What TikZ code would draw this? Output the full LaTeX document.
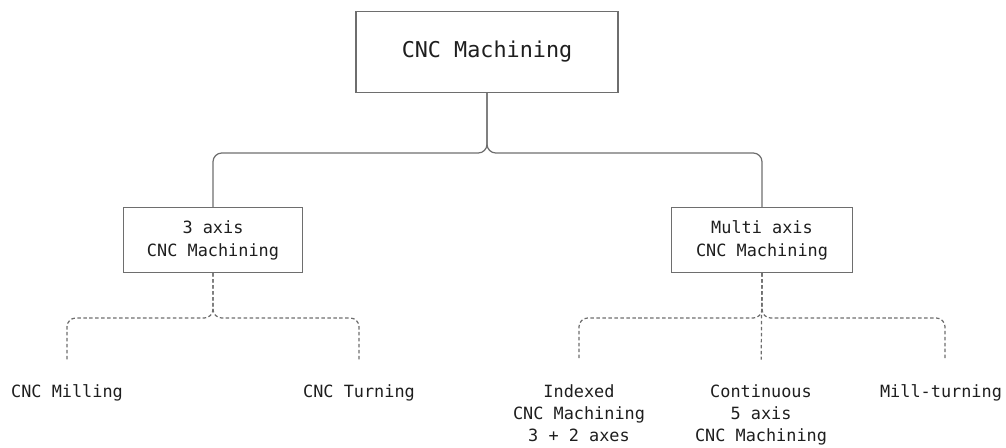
\documentclass[tikz,border=0pt]{standalone}
\usepackage{fontspec}
\setmonofont{DejaVu Sans Mono}
\usepackage{xcolor}
\usetikzlibrary{positioning}

\definecolor{linegray}{RGB}{110,110,110}
\definecolor{textgray}{RGB}{30,30,30}

\tikzset{
	caixa/.style={draw=linegray, line width=0.7pt, fill=white, text=textgray, align=center, font=\ttfamily\fontsize{9.6}{13}\selectfont},
	folha/.style={text=textgray, align=center, anchor=north, font=\ttfamily\fontsize{9.6}{12.6}\selectfont},
	liga/.style={draw=linegray, line width=0.7pt, rounded corners=5pt},
	ligatrac/.style={liga, dash pattern=on 2pt off 1.4pt, shorten >=10.5pt}
}

\begin{document}
\begin{tikzpicture}[x=0.02cm, y=-0.02cm]
				\useasboundingbox (0,0) rectangle (1006,447);
				
				%% Caixas
				\node [caixa, minimum width=5.24cm, minimum height=1.62cm,
					font=\ttfamily\fontsize{12.4}{15}\selectfont] (cnc) at (487,52) {CNC Machining};
				
				\node [caixa, minimum width=3.58cm, minimum height=1.3cm] (tres) at (213,240) {3 axis\\CNC Machining};
				
				\node [caixa, minimum width=3.62cm, minimum height=1.3cm] (multi) at (762,240) {Multi axis\\CNC Machining};
				
				%% Folhas
				\node [folha] (fresa) at (67,378) {CNC Milling};
				\node [folha] (torno) at (359,378) {CNC Turning};
				\node [folha] (indexado) at (579,378) {Indexed\\CNC Machining\\3 + 2 axes};
				\node [folha] (continuo) at (761,378) {Continuous\\5 axis\\CNC Machining};
				\node [folha] (fresatorno) at (941,378) {Mill-turning};
				
				%% Ligações
				\draw [liga] (cnc.south) -- (cnc.south |- 0,153) -- (tres.north |- 0,153) -- (tres.north);
				\draw [liga] (cnc.south) -- (cnc.south |- 0,153) -- (multi.north |- 0,153) -- (multi.north);
				
				\draw [ligatrac] (tres.south) -- (213,318) -- (67,318) -- (fresa.north);
				\draw [ligatrac] (tres.south) -- (213,318) -- (359,318) -- (torno.north);
				
				\draw [ligatrac] (multi.south) -- (762,318) -- (579,318) -- (indexado.north);
				\draw [ligatrac] (multi.south) -- (continuo.north);
				\draw [ligatrac] (multi.south) -- (762,318) -- (945,318) -- (945,378);
				
			\end{tikzpicture}
\end{document}
